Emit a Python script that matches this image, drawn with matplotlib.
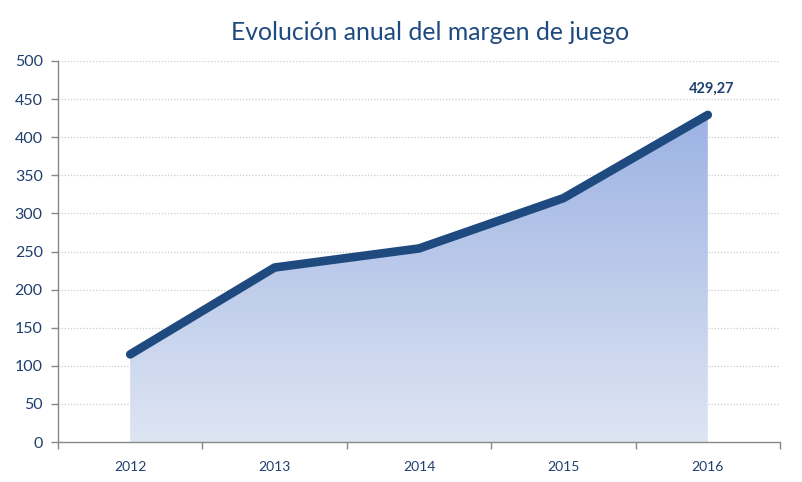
import matplotlib
matplotlib.use("Agg")
import matplotlib.pyplot as plt
import numpy as np
from matplotlib.patches import Polygon

years = ["2012", "2013", "2014", "2015", "2016"]
values = [115, 229, 254, 320, 429.27]
yticks = [0, 50, 100, 150, 200, 250, 300, 350, 400, 450, 500]
title = "Evolución anual del margen de juego"
last_label = "429,27"

plt.rcParams['font.family'] = ['Lato', 'DejaVu Sans']
dark = '#1f4a80'
txt = '#1f3f6e'

fig = plt.figure(figsize=(8.02, 4.82), dpi=100)
ax = fig.add_axes([58/802, 40/482, (780-58)/802, (442-61)/482])

x = np.arange(len(years))
ax.set_xlim(-0.5, len(years) - 0.5)
ax.set_ylim(0, 500)

# gradient fill under line
verts = [(x[0], 0)] + list(zip(x, values)) + [(x[-1], 0)]
poly = Polygon(verts, closed=True, facecolor='none', edgecolor='none')
ax.add_patch(poly)
ymax = max(values)
grad = np.linspace(0, 1, 256).reshape(-1, 1)
top = np.array([0x9c, 0xb2, 0xe3]) / 255
bot = np.array([0xde, 0xe5, 0xf3]) / 255
img = bot + (top - bot) * grad[..., None] * np.ones((1, 1, 3))
im = ax.imshow(img, extent=[x[0], x[-1], 0, ymax], origin='lower', aspect='auto', zorder=1)
im.set_clip_path(poly)

for t in yticks[1:]:
    ax.axhline(t, color='#cccccc', linestyle=(0, (1, 1.5)), linewidth=0.9, zorder=0.5)

ax.plot(x, values, color=dark, linewidth=6.2, solid_capstyle='round', solid_joinstyle='round', zorder=3)

ax.annotate(last_label, (x[-1], values[-1]), xytext=(3, 14), textcoords='offset points',
            ha='center', va='bottom', fontsize=10.5, fontweight='bold', color=txt)

ax.set_yticks(yticks)
ax.set_yticklabels([str(t) for t in yticks], fontsize=11.5, color=txt)
ax.set_xticks(x)
ax.set_xticklabels(years, fontsize=10, color=txt)
ax.set_xticks(np.arange(-0.5, len(years), 1), minor=True)
ax.tick_params(axis='x', which='major', length=0, pad=14)
ax.tick_params(axis='x', which='minor', length=5, color='#888888', width=1)
ax.tick_params(axis='y', length=5, color='#888888', width=1, pad=6)

for s in ['top', 'right']:
    ax.spines[s].set_visible(False)
for s in ['left', 'bottom']:
    ax.spines[s].set_color('#888888')
    ax.spines[s].set_linewidth(1)

fig.text(430/802, 1 - 33/482, title, ha='center', va='center', fontsize=17.8, color=dark)

fig.savefig('out.png', dpi=100)
